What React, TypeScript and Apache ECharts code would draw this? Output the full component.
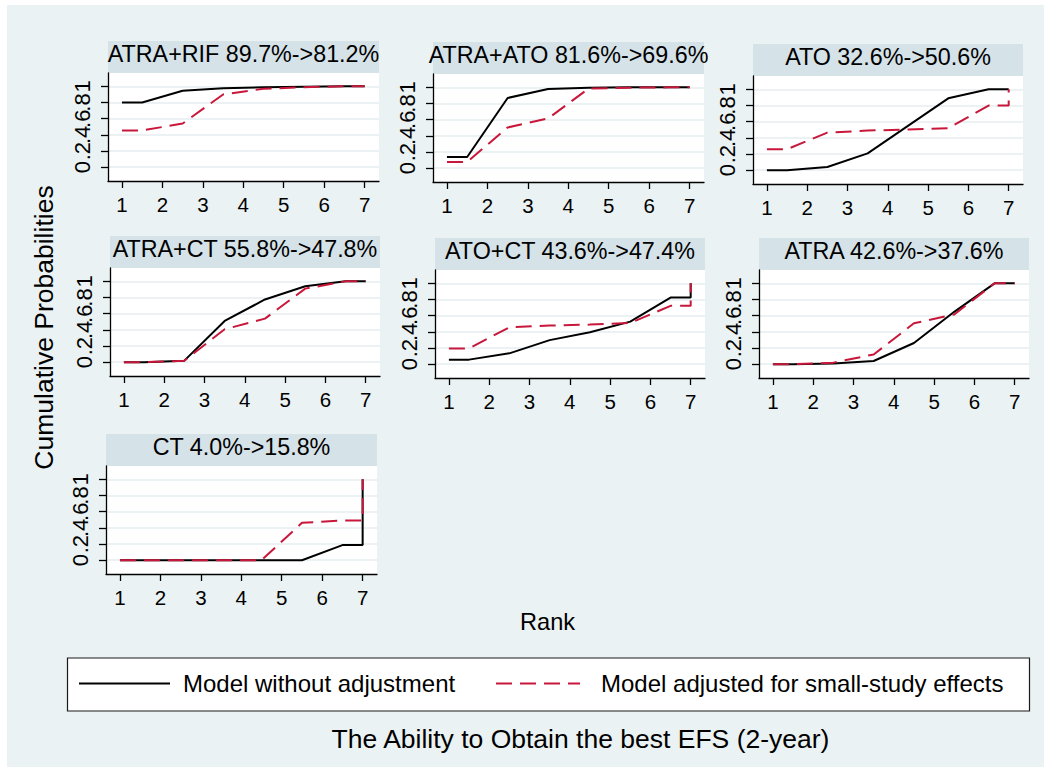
import React, { useEffect, useRef } from "react";
import * as echarts from "echarts";

// Treatments, one panel each, with SUCRA before -> after adjustment
const treatments = ["ATRA+RIF", "ATRA+ATO", "ATO", "ATRA+CT", "ATO+CT", "ATRA", "CT"];
const sucraUnadjusted = ["89.7", "81.6", "32.6", "55.8", "43.6", "42.6", "4.0"];
const sucraAdjusted = ["81.2", "69.6", "50.6", "47.8", "47.4", "37.6", "15.8"];

// Cumulative probability of being within the first r ranks, r = 1..7
const cumUnadjusted = [
  [0.8, 0.946, 0.975, 0.99, 0.995, 1.0, 1.0],
  [0.139, 0.869, 0.98, 0.996, 1.0, 1.0, 1.0],
  [0.0, 0.041, 0.209, 0.549, 0.889, 1.0, 1.0],
  [0.0, 0.02, 0.51, 0.776, 0.939, 1.0, 1.0],
  [0.057, 0.135, 0.298, 0.396, 0.527, 0.824, 1.0],
  [0.0, 0.008, 0.04, 0.263, 0.648, 1.0, 1.0],
  [0.0, 0.0, 0.0, 0.0, 0.0, 0.187, 1.0],
];
const cumAdjusted = [
  [0.455, 0.54, 0.9, 0.97, 0.99, 1.0, 1.0],
  [0.078, 0.504, 0.615, 0.984, 0.996, 1.0, 1.0],
  [0.26, 0.465, 0.49, 0.505, 0.52, 0.8, 1.0],
  [0.0, 0.02, 0.408, 0.539, 0.91, 1.0, 1.0],
  [0.196, 0.457, 0.478, 0.49, 0.51, 0.722, 1.0],
  [0.0, 0.02, 0.121, 0.506, 0.615, 1.0, 1.0],
  [0.0, 0.0, 0.0, 0.0, 0.463, 0.492, 1.0],
];

const ranks = [1, 2, 3, 4, 5, 6, 7];
const yTickValues = [0, 0.2, 0.4, 0.6, 0.8, 1];
const yTickLabels = ["0", ".2", ".4", ".6", ".8", "1"];

const seriesNames = ["Model without adjustment", "Model adjusted for small-study effects"];
const xTitle = "Rank";
const yTitle = "Cumulative Probabilities";
const noteTitle = "The Ability to Obtain the best EFS (2-year)";

// ---- layout (page pixels) ----
const PAGE_W = 1051;
const PAGE_H = 772;
const INSET_X = 7;
const INSET_Y = 5;
const px = (x: number) => x - INSET_X;
const py = (y: number) => y - INSET_Y;

// plot regions: [left, top, width, height]
const panelBoxes = [
  [108, 73, 271, 108],
  [433, 74, 271, 108],
  [753, 76, 270, 108],
  [110, 268, 270, 108],
  [435, 270, 270, 108],
  [759, 270, 270, 108],
  [106, 466, 271, 108],
];
const TITLE_H = 32;

const FONT = '"Liberation Sans", Arial, Helvetica, sans-serif';
const BG = "#EAF2F3";
const STRIP = "#D5E2E8";
const GRIDLINE = "#E6EEF1";
const BLACK = "#000000";
const RED = "#C8173A";
const DASH = [16, 8];

// Rank curve: value for rank 1 held to 1.5, ranks 2..6 at r+0.5, closing at 7
function rankCurve(cum: number[]): number[][] {
  const pts: number[][] = [
    [1, cum[0]],
    [1.5, cum[0]],
  ];
  for (let r = 2; r <= 6; r++) pts.push([r + 0.5, cum[r - 1]]);
  pts.push([7, cum[5]]);
  pts.push([7, cum[6]]);
  return pts;
}

function buildOption() {
  const grid: any[] = [];
  const xAxis: any[] = [];
  const yAxis: any[] = [];
  const series: any[] = [];
  const graphic: any[] = [];

  panelBoxes.forEach(([l, t, w, h], i) => {
    grid.push({
      left: px(l),
      top: py(t),
      width: w,
      height: h,
      show: true,
      backgroundColor: "#ffffff",
      borderWidth: 0,
      outerBoundsMode: "none",
    });
    xAxis.push({
      type: "value",
      gridIndex: i,
      min: 0.655,
      max: 7.355,
      axisLine: { show: true, onZero: false, lineStyle: { color: BLACK, width: 1.3 } },
      axisTick: { show: true, length: 7, customValues: ranks, lineStyle: { color: BLACK, width: 1.3 } },
      axisLabel: {
        customValues: ranks,
        color: BLACK,
        fontSize: 20.5,
        fontFamily: FONT,
        margin: 12.5,
        hideOverlap: false,
      },
      splitLine: { show: false },
    });
    yAxis.push({
      type: "value",
      gridIndex: i,
      min: -0.17,
      max: 1.165,
      axisLine: { show: true, onZero: false, lineStyle: { color: BLACK, width: 1.3 } },
      axisTick: { show: true, length: 7, customValues: yTickValues, lineStyle: { color: BLACK, width: 1.3 } },
      axisLabel: {
        customValues: yTickValues,
        rotate: 90,
        color: BLACK,
        fontSize: 22,
        fontFamily: FONT,
        margin: 15,
        hideOverlap: false,
        formatter: (v: number) => {
          const k = yTickValues.findIndex((t) => Math.abs(t - v) < 1e-9);
          return k >= 0 ? yTickLabels[k] : "";
        },
      },
      splitLine: { show: true, lineStyle: { color: GRIDLINE, width: 1.5 } },
    });
    series.push({
      type: "line",
      name: seriesNames[0],
      xAxisIndex: i,
      yAxisIndex: i,
      data: rankCurve(cumUnadjusted[i]),
      symbol: "none",
      showSymbol: false,
      silent: true,
      z: 2,
      lineStyle: { color: BLACK, width: 2 },
    });
    series.push({
      type: "line",
      name: seriesNames[1],
      xAxisIndex: i,
      yAxisIndex: i,
      data: rankCurve(cumAdjusted[i]),
      symbol: "none",
      showSymbol: false,
      silent: true,
      z: 3,
      lineStyle: { color: RED, width: 2, type: DASH },
    });

    // panel strip with its title
    const boxTop = t - TITLE_H;
    graphic.push({
      type: "rect",
      shape: { x: px(l), y: py(boxTop), width: w, height: TITLE_H },
      style: { fill: STRIP },
      silent: true,
    });
    graphic.push({
      type: "text",
      x: px(l + w / 2),
      y: py(boxTop + 12.7),
      style: {
        text: `${treatments[i]} ${sucraUnadjusted[i]}%->${sucraAdjusted[i]}%`,
        fill: BLACK,
        fontSize: 23.3,
        fontFamily: FONT,
        align: "center",
        verticalAlign: "middle",
      },
      silent: true,
    });
  });

  // axis titles
  graphic.push({
    type: "text",
    x: px(547.6),
    y: py(622),
    style: { text: xTitle, fill: BLACK, fontSize: 23.6, fontFamily: FONT, align: "center", verticalAlign: "middle" },
    silent: true,
  });
  graphic.push({
    type: "text",
    x: px(44),
    y: py(327.5),
    rotation: Math.PI / 2,
    style: { text: yTitle, fill: BLACK, fontSize: 26.5, fontFamily: FONT, align: "center", verticalAlign: "middle" },
    silent: true,
  });

  // legend box
  const legY = 683.5;
  graphic.push({
    type: "rect",
    shape: { x: px(67.5), y: py(658), width: 962, height: 53 },
    style: { fill: "#ffffff", stroke: "#1a1a1a", lineWidth: 1.2 },
    silent: true,
  });
  graphic.push({
    type: "line",
    shape: { x1: px(79), y1: py(legY), x2: px(170), y2: py(legY) },
    style: { stroke: BLACK, lineWidth: 2 },
    silent: true,
  });
  graphic.push({
    type: "text",
    x: px(183),
    y: py(legY - 0.5),
    style: { text: seriesNames[0], fill: BLACK, fontSize: 24, fontFamily: FONT, align: "left", verticalAlign: "middle" },
    silent: true,
  });
  graphic.push({
    type: "line",
    shape: { x1: px(496), y1: py(legY), x2: px(580), y2: py(legY) },
    style: { stroke: RED, lineWidth: 2, lineDash: DASH },
    silent: true,
  });
  graphic.push({
    type: "text",
    x: px(601),
    y: py(legY - 0.5),
    style: { text: seriesNames[1], fill: BLACK, fontSize: 24, fontFamily: FONT, align: "left", verticalAlign: "middle" },
    silent: true,
  });

  // note title
  graphic.push({
    type: "text",
    x: px(580.5),
    y: py(739),
    style: { text: noteTitle, fill: BLACK, fontSize: 26.5, fontFamily: FONT, align: "center", verticalAlign: "middle" },
    silent: true,
  });

  return {
    animation: false,
    backgroundColor: BG,
    textStyle: { fontFamily: FONT },
    grid,
    xAxis,
    yAxis,
    series,
    graphic: { elements: graphic },
  };
}

export default function App() {
  const ref = useRef<HTMLDivElement>(null);

  useEffect(() => {
    if (!ref.current) return;
    const chart = echarts.init(ref.current, undefined, { renderer: "svg" });
    chart.setOption(buildOption() as any);
    return () => chart.dispose();
  }, []);

  return (
    <div
      style={{
        position: "fixed",
        left: 0,
        top: 0,
        width: PAGE_W,
        height: PAGE_H,
        background: "#ffffff",
        overflow: "hidden",
      }}
    >
      <div
        ref={ref}
        style={{
          position: "absolute",
          left: INSET_X,
          top: INSET_Y,
          width: PAGE_W - 2 * INSET_X,
          height: PAGE_H - 2 * INSET_Y,
        }}
      />
    </div>
  );
}
